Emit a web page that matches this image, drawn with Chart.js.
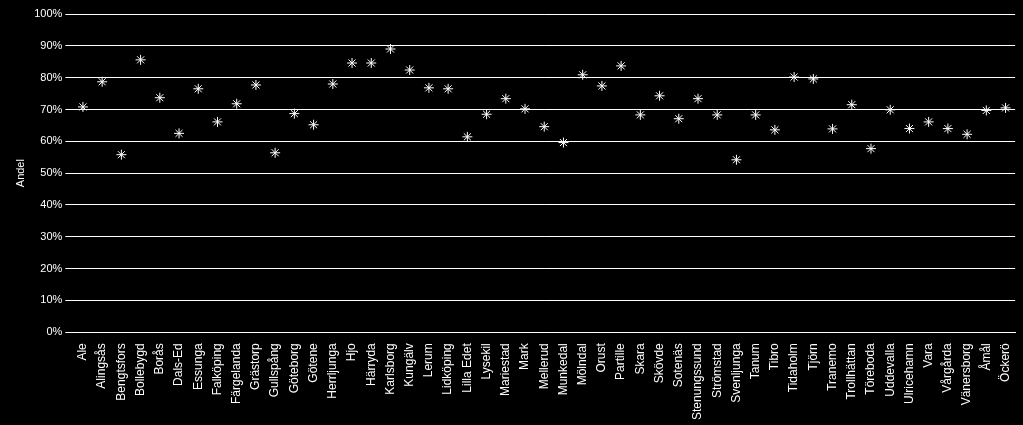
<!DOCTYPE html>
<html><head><meta charset="utf-8">
<script src="https://cdn.jsdelivr.net/npm/chart.js@4"></script>
<style>html,body{margin:0;background:#000;}#w{width:1023px;height:425px;}</style>
</head><body><div id="w"><canvas id="c"></canvas></div>
<script>
const categories=["Ale","Alingsås","Bengtsfors","Bollebygd","Borås","Dals-Ed","Essunga","Falköping","Färgelanda","Grästorp","Gullspång","Göteborg","Götene","Herrljunga","Hjo","Härryda","Karlsborg","Kungälv","Lerum","Lidköping","Lilla Edet","Lysekil","Mariestad","Mark","Mellerud","Munkedal","Mölndal","Orust","Partille","Skara","Skövde","Sotenäs","Stenungssund","Strömstad","Svenljunga","Tanum","Tibro","Tidaholm","Tjörn","Tranemo","Trollhättan","Töreboda","Uddevalla","Ulricehamn","Vara","Vårgårda","Vänersborg","Åmål","Öckerö"];
const andel=[70.8,78.7,55.8,85.6,73.7,62.5,76.5,66.1,71.8,77.7,56.4,68.7,65.2,78,84.6,84.6,89,82.4,76.8,76.5,61.4,68.5,73.4,70.2,64.6,59.6,80.9,77.4,83.7,68.3,74.3,67.1,73.4,68.3,54.2,68.3,63.6,80.2,79.6,63.9,71.5,57.7,69.9,64,66.1,64,62.2,69.7,70.5];
const yTicks=[0,10,20,30,40,50,60,70,80,90,100];
new Chart(document.getElementById('c'),{type:'line',data:{labels:categories,datasets:[{data:andel,showLine:false,pointStyle:'star',pointRadius:5,borderColor:'#fff',backgroundColor:'#fff',borderWidth:1}]},
options:{responsive:true,maintainAspectRatio:false,animation:false,layout:{padding:{right:4,top:14,left:10,bottom:2}},plugins:{legend:{display:false},tooltip:{enabled:false}},
scales:{x:{offset:true,grid:{display:false},border:{color:'#fff'},ticks:{color:'#fff',font:{family:'Liberation Sans',size:12},maxRotation:90,minRotation:90,autoSkip:false}},
y:{min:0,max:100,afterBuildTicks:a=>{a.ticks=yTicks.map(v=>({value:v}));},grid:{color:'#fff'},border:{display:false},ticks:{color:'#fff',font:{family:'Liberation Sans',size:11},callback:v=>v+'%'},title:{display:true,text:'Andel',color:'#fff',font:{family:'Liberation Sans',size:11}}}}}});
</script></body></html>
